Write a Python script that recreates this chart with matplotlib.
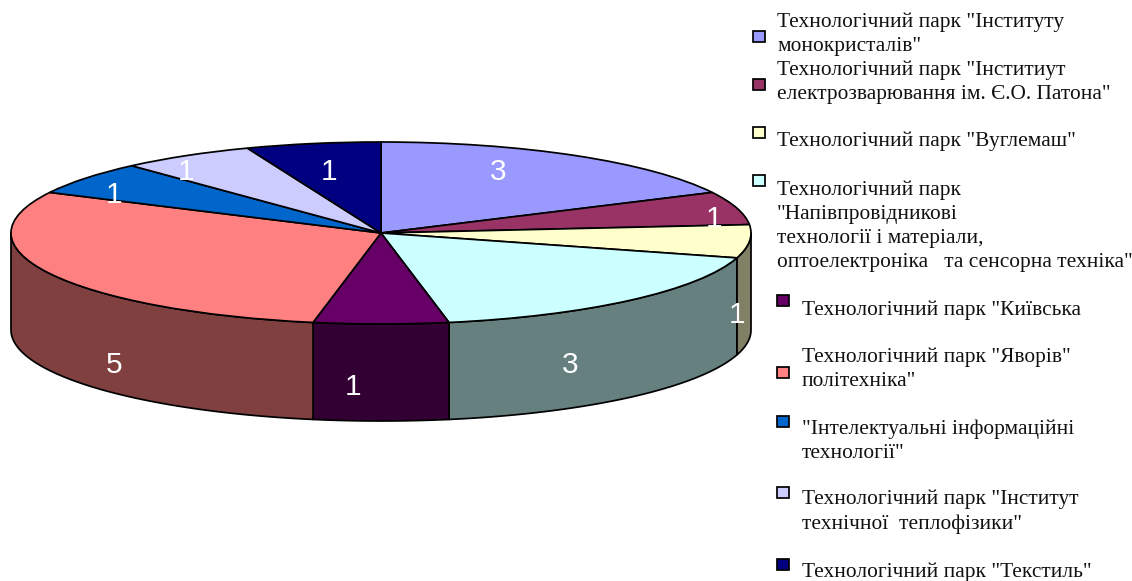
#!/usr/bin/env python3
import matplotlib
matplotlib.use('Agg')
import matplotlib.pyplot as plt
from matplotlib.patches import Rectangle
from matplotlib.colors import to_rgb
import numpy as np

# ── data ─────────────────────────────────────────────────────────────────────

VALUES = [3, 1, 1, 3, 1, 5, 1, 1, 1]
COLORS = ['#9999FF', '#993366', '#FFFFCC', '#CCFFFF', '#660066',
          '#FF8080', '#0066CC', '#CCCCFF', '#000080']
LEGEND = [
    'Технологічний парк "Інституту\nмонокристалів"',
    'Технологічний парк "Інститиут\nелектрозварювання ім. Є.О. Патона"',
    'Технологічний парк "Вуглемаш"',
    'Технологічний парк\n"Напівпровідникові\nтехнології і матеріали,\nоптоелектроніка   та сенсорна техніка"',
    'Технологічний парк "Київська',
    'Технологічний парк "Яворів"\nполітехніка"',
    '"Інтелектуальні інформаційні\nтехнології"',
    'Технологічний парк "Інститут\nтехнічної  теплофізики"',
    'Технологічний парк "Текстиль"',
]

# ── layout, in pixels of the 1132x581 picture ────────────────────────────────

W, H = 1132, 581
CX, CY, RX, RY = 381, 233, 370, 91
DEPTH = 97
LABEL_POS = [(498, 172), (714, 219), (737, 315), (570, 365), (353, 387),
             (114, 365), (114, 195), (186, 172), (329, 172)]
SWATCH_POS = [(759, 36), (759, 84), (759, 132), (759, 180), (783, 300),
              (783, 372), (783, 421), (783, 492), (783, 564)]
TEXT_POS = [(777, 34), (777, 82), (777, 141), (777, 226), (802, 310),
            (802, 369), (802, 441), (802, 512), (802, 572)]


def draw_walls(ax):
    # lower half of the rim only, slice by slice, in the pie's own units
    angles = 90 - np.cumsum([0] + VALUES) / sum(VALUES) * 360
    depth = DEPTH / RY
    for a0, a1, color in zip(angles[:-1], angles[1:], COLORS):
        hi, lo = min(a0, 0), max(a1, -180)
        if hi <= lo:
            continue
        t = np.radians(np.linspace(hi, lo, 60))
        x, y = np.cos(t), np.sin(t)
        xs = np.r_[x, x[::-1]]
        ys = np.r_[y, y[::-1] - depth]
        shade = tuple(c * 0.5 for c in to_rgb(color))
        ax.fill(xs, ys, facecolor=shade, edgecolor='black', linewidth=1.25,
                joinstyle='round', zorder=1)


def main():
    fig = plt.figure(figsize=(W / 100, H / 100), dpi=100, facecolor='white')

    ax = fig.add_axes([0, 0, 1, 1])
    draw_walls(ax)
    wedges, _ = ax.pie(VALUES, colors=COLORS, startangle=90, counterclock=False,
                       wedgeprops={'edgecolor': 'black', 'linewidth': 1.25})
    for w in wedges:
        w.set_zorder(2)
    ax.set_aspect('auto')
    ax.set_xlim(-CX / RX, (W - CX) / RX)
    ax.set_ylim((CY - H) / RY, CY / RY)

    # overlay in picture pixels for the labels and the hand-placed legend
    px = fig.add_axes([0, 0, 1, 1])
    px.set_xlim(0, W)
    px.set_ylim(H, 0)
    px.axis('off')

    for v, (x, y) in zip(VALUES, LABEL_POS):
        px.text(x, y, str(v), color='white', fontsize=21.5,
                family='Liberation Sans', ha='center', va='center')

    for label, color, (sx, sy), (tx, ty) in zip(LEGEND, COLORS, SWATCH_POS, TEXT_POS):
        px.add_patch(Rectangle((sx - 6, sy - 5.5), 12, 11, facecolor=color,
                               edgecolor='black', linewidth=1.25))
        px.text(tx, ty, label, color='#111111', fontsize=15.4,
                family='Liberation Serif', ha='left', va='center', linespacing=1.35)

    fig.savefig('out.png', dpi=100)
    plt.close(fig)


if __name__ == '__main__':
    main()
